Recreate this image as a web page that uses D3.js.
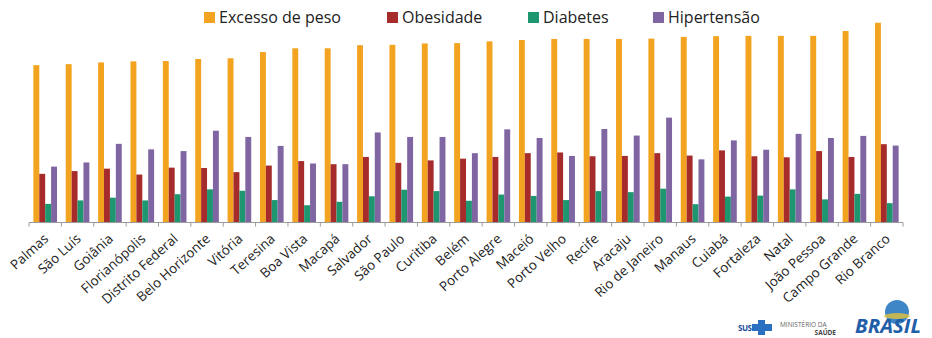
<!DOCTYPE html>
<html>
<head>
<meta charset="utf-8">
<script src="https://cdn.jsdelivr.net/npm/d3@7"></script>
<style>
  body { margin: 0; background: #fff; }
  svg { display: block; font-family: "Open Sans", "Noto Sans", sans-serif; }
</style>
</head>
<body>
<svg id="chart" width="932" height="338"></svg>
<script>
// categories (cities)
const cidades = ["Palmas", "São Luís", "Goiânia", "Florianópolis", "Distrito Federal",
  "Belo Horizonte", "Vitória", "Teresina", "Boa Vista", "Macapá", "Salvador", "São Paulo",
  "Curitiba", "Belém", "Porto Alegre", "Maceió", "Porto Velho", "Recife", "Aracaju",
  "Rio de Janeiro", "Manaus", "Cuiabá", "Fortaleza", "Natal", "João Pessoa",
  "Campo Grande", "Rio Branco"]

const series = ["Excesso de peso", "Obesidade", "Diabetes", "Hipertensão"]

// values in %
const excessoPeso = [45.6, 45.9, 46.4, 46.7, 46.8, 47.4, 47.6, 49.4, 50.5, 50.5, 51.4, 51.5,
  51.9, 52.0, 52.5, 52.9, 53.2, 53.2, 53.2, 53.3, 53.8, 54.0, 54.1, 54.1, 54.1, 55.5, 57.9]
const obesidade = [14.1, 14.9, 15.6, 13.9, 15.9, 15.8, 14.6, 16.5, 17.8, 16.9, 19.0, 17.3,
  18.0, 18.5, 19.0, 20.1, 20.3, 19.2, 19.3, 20.1, 19.4, 20.9, 19.2, 18.9, 20.7, 19.0, 22.7]
const diabetes = [5.4, 6.4, 7.2, 6.4, 8.2, 9.6, 9.2, 6.5, 5.0, 6.0, 7.6, 9.5,
  9.1, 6.3, 8.1, 7.7, 6.5, 9.1, 8.8, 9.8, 5.3, 7.5, 7.8, 9.6, 6.7, 8.3, 5.6]
const hipertensao = [16.2, 17.4, 22.8, 21.2, 20.7, 26.6, 24.8, 22.2, 17.1, 16.9, 26.1, 24.8,
  24.8, 20.1, 27.0, 24.5, 19.3, 27.1, 25.2, 30.4, 18.3, 23.8, 21.1, 25.7, 24.5, 25.1, 22.3]

const cores = ["#F2A31F", "#A62B2B", "#1E9670", "#8065A3"]

const rows = cidades.map((c, i) => ({
  cidade: c,
  vals: [excessoPeso[i], obesidade[i], diabetes[i], hipertensao[i]]
}))

const svg = d3.select("#chart")
const left = 29, right = 903, base = 222.5

const x0 = d3.scaleBand()
  .domain(cidades)
  .range([left, right])
  .paddingInner(0.27)
  .paddingOuter(0.135)

const x1 = d3.scaleBand()
  .domain(series)
  .range([0, x0.bandwidth()])

const y = d3.scaleLinear()
  .domain([0, 60])
  .range([base, base - 60 * 3.45])

// bars
const groups = svg.append("g").attr("class", "bars")
  .selectAll("g")
  .data(rows)
  .join("g")
  .attr("transform", d => "translate(" + x0(d.cidade) + ",0)")

groups.selectAll("rect")
  .data(d => d.vals.map((v, k) => ({ s: series[k], v: v, k: k })))
  .join("rect")
  .attr("x", d => x1(d.s))
  .attr("width", x1.bandwidth())
  .attr("y", d => y(d.v))
  .attr("height", d => y(0) - y(d.v))
  .attr("fill", d => cores[d.k])

// x axis: line with ticks at band edges
const axis = svg.append("g").attr("class", "x-axis")
axis.append("line")
  .attr("x1", left).attr("x2", right)
  .attr("y1", base).attr("y2", base)
  .attr("stroke", "#9a9a9a")
const step = (right - left) / cidades.length
axis.selectAll("line.tick")
  .data(d3.range(cidades.length + 1))
  .join("line")
  .attr("class", "tick")
  .attr("x1", i => left + i * step).attr("x2", i => left + i * step)
  .attr("y1", base).attr("y2", base + 4)
  .attr("stroke", "#9a9a9a")

axis.selectAll("text")
  .data(cidades)
  .join("text")
  .attr("transform", d => "translate(" + (x0(d) + x0.bandwidth() / 2 + 1) + "," + (base + 14) + ") rotate(-42)")
  .attr("text-anchor", "end")
  .attr("dy", "0.35em")
  .attr("font-size", 13.5)
  .attr("fill", "#222")
  .text(d => d)

// legend
const legendX = [204, 387, 528, 653]
const legend = svg.append("g").attr("class", "legend")
  .selectAll("g")
  .data(series)
  .join("g")
  .attr("transform", (d, i) => "translate(" + legendX[i] + ",12)")
legend.append("rect")
  .attr("width", 11).attr("height", 11)
  .attr("fill", (d, i) => cores[i])
legend.append("text")
  .attr("x", 15).attr("y", 10.5)
  .attr("font-size", 16)
  .attr("fill", "#222")
  .text(d => d)

// logos bottom right
const logo = svg.append("g").attr("class", "logos")
logo.append("text")
  .attr("x", 738).attr("y", 331)
  .attr("font-size", 8).attr("font-weight", "bold")
  .attr("fill", "#1d4f9c").attr("letter-spacing", -0.5)
  .text("SUS")
logo.append("path")
  .attr("d", "M758,320h7v4h7v7h-7v4h-7v-4h-6v-7h6z")
  .attr("fill", "#2a6fc0")
logo.append("text")
  .attr("x", 780).attr("y", 327)
  .attr("font-size", 6.5).attr("fill", "#666")
  .text("MINISTÉRIO DA")
logo.append("text")
  .attr("x", 836).attr("y", 335)
  .attr("text-anchor", "end")
  .attr("font-size", 6.5).attr("font-weight", "bold").attr("fill", "#444")
  .text("SAÚDE")
logo.append("circle")
  .attr("cx", 897).attr("cy", 312).attr("r", 12)
  .attr("fill", "#3f86c6")
logo.append("ellipse")
  .attr("cx", 897).attr("cy", 316).attr("rx", 13).attr("ry", 3)
  .attr("fill", "#e3c23a").attr("opacity", 0.8)
logo.append("text")
  .attr("x", 855).attr("y", 333)
  .attr("font-size", 20).attr("font-weight", "bold").attr("font-style", "italic")
  .attr("fill", "#1f5ea8")
  .attr("textLength", 66).attr("lengthAdjust", "spacingAndGlyphs")
  .text("BRASIL")
</script>
</body>
</html>
